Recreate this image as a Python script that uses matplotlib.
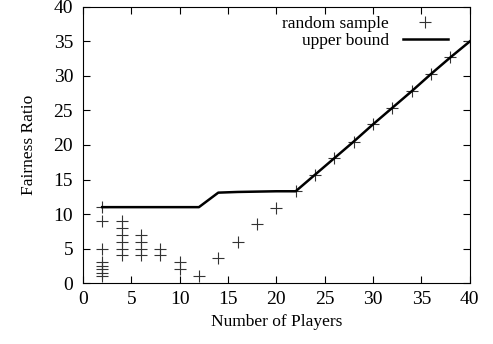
import matplotlib
matplotlib.use("Agg")
import matplotlib.pyplot as plt

plt.rcParams['font.family'] = ['Liberation Serif', 'DejaVu Serif']

# random sample points
sample_x = [2, 2, 2, 2, 2, 2, 2, 2,
            4, 4, 4, 4, 4, 4,
            6, 6, 6, 6,
            8, 8,
            10, 10,
            12, 14, 16, 18, 20, 22, 24, 26, 28, 30, 32, 34, 36, 38, 40]
sample_y = [11, 9, 5, 3, 2.5, 2, 1.5, 1,
            9, 8, 7, 6, 5, 4,
            7, 6, 5, 4,
            5, 4,
            3, 2,
            1, 3.6, 6, 8.5, 10.9, 13.3, 15.7, 18.1, 20.5, 23.0, 25.4, 27.8, 30.3, 32.7, 35]

# upper bound
bound_x = [2, 4, 6, 8, 10, 12, 14, 16, 18, 20, 22, 24, 26, 28, 30, 32, 34, 36, 38, 40]
bound_y = [11, 11, 11, 11, 11, 11, 13.1, 13.2, 13.25, 13.3, 13.3,
           15.7, 18.1, 20.5, 23.0, 25.4, 27.8, 30.3, 32.7, 35]

fig = plt.figure(figsize=(4.93, 3.44), dpi=100)
ax = fig.add_axes([0.168, 0.177, 0.785, 0.803])

ax.plot(sample_x, sample_y, linestyle='none', marker='+', markersize=8,
        markeredgewidth=0.8, color='#333333', label='random sample')
ax.plot(bound_x, bound_y, color='black', linewidth=1.8, label='upper bound')

ax.set_xlim(0, 40)
ax.set_ylim(0, 40)
ax.set_xticks(range(0, 41, 5))
ax.set_yticks(range(0, 41, 5))
ax.tick_params(direction='in', top=True, right=True, labelsize=14, length=5)
ax.tick_params(axis='y', pad=7)
ax.tick_params(axis='x', pad=6)
ax.set_xlabel('Number of Players', fontsize=12.5, labelpad=4)
ax.set_ylabel('Fairness Ratio', fontsize=12.5, labelpad=12)
for s in ax.spines.values():
    s.set_linewidth(0.8)

ax.legend(loc='upper right', bbox_to_anchor=(0.943, 0.966), frameon=False,
          markerfirst=False, fontsize=12.5, handlelength=2.6, borderaxespad=0.0,
          labelspacing=0.0, handletextpad=0.8, borderpad=0.0)

fig.savefig('out.png', dpi=100)
